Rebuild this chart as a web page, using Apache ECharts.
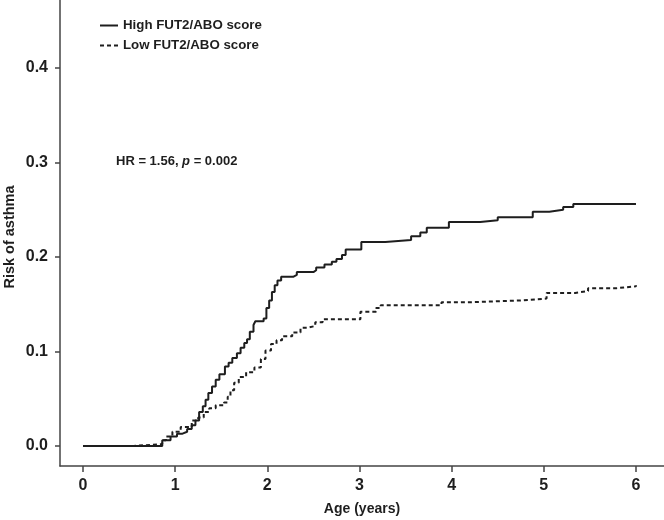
<!DOCTYPE html>
<html>
<head>
<meta charset="utf-8">
<script src="https://cdn.jsdelivr.net/npm/echarts@6/dist/echarts.min.js"></script>
<style>html,body{margin:0;padding:0;background:#fff}#c{width:664px;height:520px}</style>
</head>
<body>
<div id="c"></div>
<script>
// Step points (age in years, cumulative risk)
const highAge = [0, 0.86, 0.95, 1.02, 1.08, 1.13, 1.18, 1.22, 1.26, 1.30, 1.33, 1.36, 1.40, 1.44, 1.48, 1.54, 1.58, 1.62, 1.67, 1.71, 1.75, 1.78, 1.81, 1.85, 1.87, 1.96, 1.99, 2.02, 2.05, 2.08, 2.11, 2.15, 2.28, 2.32, 2.50, 2.53, 2.62, 2.70, 2.75, 2.81, 2.85, 3.02, 3.28, 3.56, 3.66, 3.73, 3.97, 4.31, 4.50, 4.88, 5.06, 5.21, 5.32, 6.00];
const highRisk = [0, 0.006, 0.010, 0.013, 0.015, 0.018, 0.022, 0.027, 0.036, 0.042, 0.049, 0.056, 0.063, 0.070, 0.076, 0.084, 0.088, 0.093, 0.098, 0.104, 0.109, 0.113, 0.121, 0.128, 0.132, 0.135, 0.146, 0.154, 0.163, 0.170, 0.175, 0.179, 0.181, 0.184, 0.186, 0.189, 0.192, 0.195, 0.198, 0.202, 0.208, 0.216, 0.218, 0.222, 0.226, 0.231, 0.237, 0.239, 0.242, 0.248, 0.250, 0.253, 0.256, 0.256];
const lowAge = [0, 0.55, 0.86, 0.90, 0.97, 1.06, 1.18, 1.25, 1.31, 1.37, 1.44, 1.53, 1.57, 1.60, 1.64, 1.69, 1.77, 1.86, 1.93, 1.98, 2.04, 2.10, 2.16, 2.27, 2.36, 2.43, 2.52, 2.60, 3.01, 3.18, 3.23, 3.89, 4.18, 4.74, 5.03, 5.34, 5.48, 5.79, 6.00];
const lowRisk = [0, 0.002, 0.006, 0.010, 0.015, 0.020, 0.027, 0.030, 0.036, 0.040, 0.043, 0.046, 0.052, 0.059, 0.067, 0.073, 0.078, 0.083, 0.092, 0.101, 0.108, 0.112, 0.116, 0.120, 0.125, 0.127, 0.131, 0.134, 0.142, 0.146, 0.149, 0.152, 0.154, 0.156, 0.162, 0.164, 0.167, 0.169, 0.170];
const xTicks = [0, 1, 2, 3, 4, 5, 6];
const yTicks = [0, 0.1, 0.2, 0.3, 0.4];
const seriesNames = ['High FUT2/ABO score', 'Low FUT2/ABO score'];
const yTitle = 'Risk of asthma';
const xTitle = 'Age (years)';

const FONT = 'Liberation Sans, Arial, Helvetica, sans-serif';
const INK = '#1e1e1e';
const chart = echarts.init(document.getElementById('c'), null, {renderer: 'canvas'});
const zip = (a, b) => a.map((v, i) => [v, b[i]]);

chart.setOption({
  animation: false,
  backgroundColor: '#fff',
  grid: {left: 60, right: 0, top: 0, bottom: 54, containLabel: false, outerBoundsMode: 'none'},
  legend: {
    orient: 'vertical', left: 94, top: 14, itemWidth: 18, itemHeight: 10, itemGap: 7,
    data: seriesNames,
    itemStyle: {opacity: 0},
    textStyle: {fontFamily: FONT, fontWeight: 'bold', fontSize: 13.3, color: INK},
    selectedMode: false
  },
  xAxis: {
    type: 'value', min: -0.2495, max: 6.304,
    name: xTitle, nameLocation: 'middle', nameGap: 36,
    nameTextStyle: {fontFamily: FONT, fontWeight: 'bold', fontSize: 14, color: INK},
    axisLine: {show: true, onZero: false, lineStyle: {color: '#444', width: 1.5}},
    axisTick: {show: true, customValues: xTicks, length: 6, lineStyle: {color: '#444', width: 1.5}},
    axisLabel: {customValues: xTicks, margin: 12, fontFamily: FONT, fontWeight: 'bold', fontSize: 16, color: INK},
    splitLine: {show: false}
  },
  yAxis: {
    type: 'value', min: -0.0212, max: 0.472,
    axisLine: {show: true, onZero: false, lineStyle: {color: '#444', width: 1.5}},
    axisTick: {show: true, customValues: yTicks, length: 5, lineStyle: {color: '#444', width: 1.5}},
    axisLabel: {customValues: yTicks, margin: 12, fontFamily: FONT, fontWeight: 'bold', fontSize: 16, color: INK,
      formatter: v => v.toFixed(1)},
    splitLine: {show: false}
  },
  graphic: [{
    type: 'text', left: 116, top: 155,
    style: {
      text: '{b|HR = 1.56, }{i|p}{b| = 0.002}',
      rich: {
        b: {fontFamily: FONT, fontWeight: 'bold', fontSize: 13, fill: INK},
        i: {fontFamily: FONT, fontWeight: 'bold', fontStyle: 'italic', fontSize: 13, fill: INK}
      }
    }
  }, {
    type: 'text', x: 10, y: 237, rotation: Math.PI / 2,
    style: {text: yTitle, fontFamily: FONT, fontWeight: 'bold', fontSize: 14.5, fill: INK,
      align: 'center', verticalAlign: 'middle'}
  }],
  series: [
    {
      name: seriesNames[1], type: 'line', step: 'end', showSymbol: false, symbol: 'none',
      data: zip(lowAge, lowRisk), z: 3,
      lineStyle: {color: INK, width: 2, type: [4, 3]}, itemStyle: {color: INK}
    },
    {
      name: seriesNames[0], type: 'line', step: 'end', showSymbol: false, symbol: 'none',
      data: zip(highAge, highRisk), z: 2,
      lineStyle: {color: INK, width: 2, type: 'solid'}, itemStyle: {color: INK}
    }
  ]
});
</script>
</body>
</html>
